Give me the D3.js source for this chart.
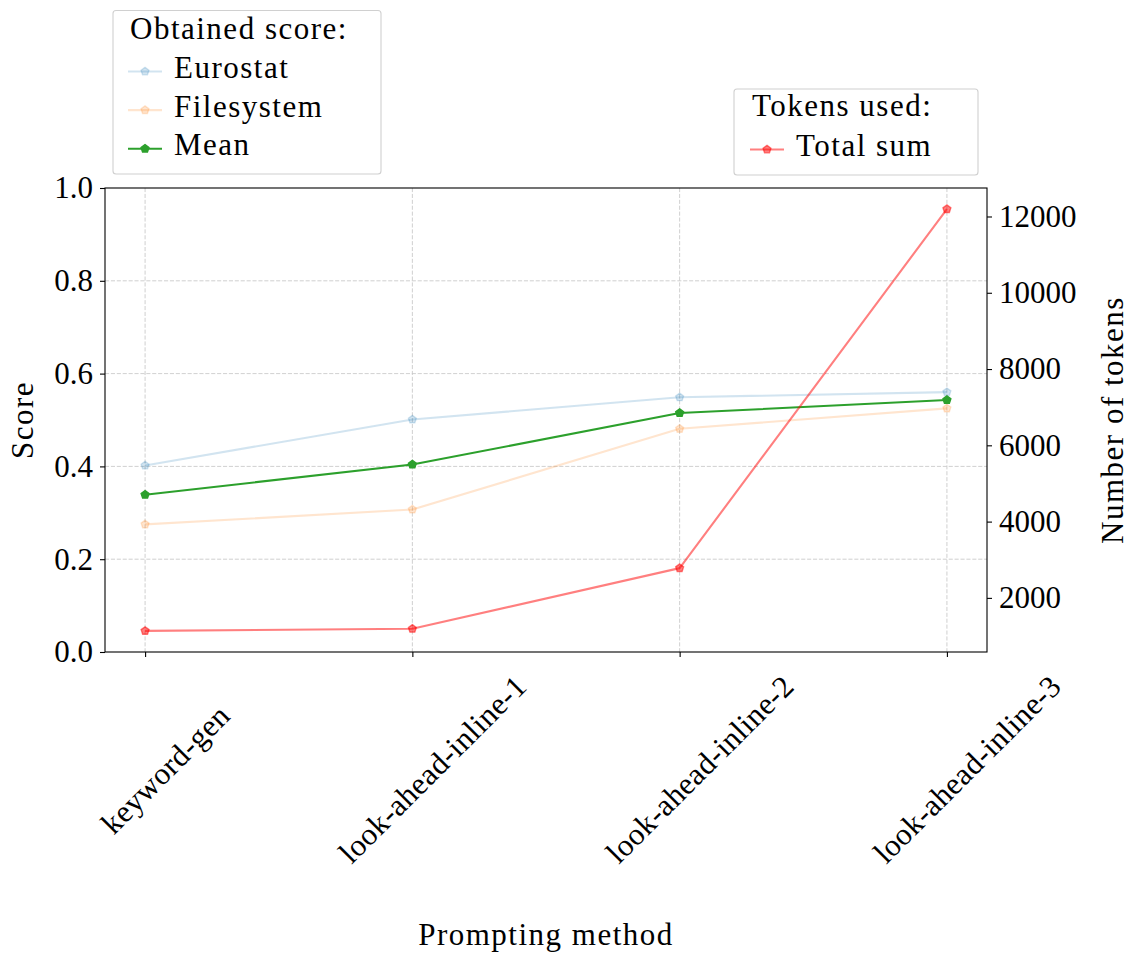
<!DOCTYPE html>
<html>
<head>
<meta charset="utf-8">
<script src="https://cdn.jsdelivr.net/npm/d3@7"></script>
<style>
  body { margin: 0; background: #fff; }
  svg text { font-family: "Liberation Serif", "Times New Roman", Tinos, "DejaVu Serif", serif; fill: #000; }
  .word { letter-spacing: 1.5px; }
  .xlab { letter-spacing: 0.3px; }
</style>
</head>
<body>
<svg id="board" width="1138" height="957"></svg>
<script>
// prompting methods on the x axis
let methods = ['keyword-gen', 'look-ahead-inline-1', 'look-ahead-inline-2', 'look-ahead-inline-3']

// obtained scores
let eurostat = [0.402, 0.501, 0.549, 0.560]
let filesystem = [0.275, 0.307, 0.481, 0.525]
let meanScore = [0.339, 0.404, 0.515, 0.543]

// tokens used (total sum)
let tokens = [1134, 1190, 2780, 12194]

let scoreTicks = [0, 0.2, 0.4, 0.6, 0.8, 1.0]
let tokenTicks = [2000, 4000, 6000, 8000, 10000, 12000]

let board = d3.select('#board')
let serif = '"Liberation Serif", "Times New Roman", Tinos, "DejaVu Serif", serif'

// axes box
let axLeft = 105, axRight = 987, axTop = 188, axBottom = 652
let fontSize = 31

let x = d3.scalePoint().domain(methods).range([axLeft, axRight]).padding(0.15)
let yScore = d3.scaleLinear().domain([0, 1]).range([axBottom, axTop])

// matplotlib style autoscale (5% margins) for the twin axis
let tMin = d3.min(tokens), tMax = d3.max(tokens)
let tPad = (tMax - tMin) * 0.05
let yTokens = d3.scaleLinear().domain([tMin - tPad, tMax + tPad]).range([axBottom, axTop])

// grid
let grid = board.append('g')
grid.selectAll('.gx')
    .data(methods)
    .enter()
    .append('line')
    .attr('x1', d => x(d)).attr('x2', d => x(d))
    .attr('y1', axTop).attr('y2', axBottom)
grid.selectAll('.gy')
    .data(scoreTicks.slice(1, -1))
    .enter()
    .append('line')
    .attr('x1', axLeft).attr('x2', axRight)
    .attr('y1', d => yScore(d)).attr('y2', d => yScore(d))
grid.selectAll('line')
    .attr('stroke', '#c4c4c4')
    .attr('stroke-width', 0.8)
    .attr('stroke-dasharray', '4.1,1.8')

// pentagon marker like matplotlib 'p'
let pentagon = {
    draw: function(ctx, size) {
        let r = Math.sqrt(size)
        for (let k = 0; k < 5; k++) {
            let a = -Math.PI / 2 + k * 2 * Math.PI / 5
            if (k === 0) ctx.moveTo(r * Math.cos(a), r * Math.sin(a))
            else ctx.lineTo(r * Math.cos(a), r * Math.sin(a))
        }
        ctx.closePath()
    }
}
let marker = d3.symbol().type(pentagon).size(4.17 * 4.17)

let drawSeries = function(values, yScale, color, alpha) {
    let g = board.append('g')
    let line = d3.line()
        .x((d, i) => x(methods[i]))
        .y(d => yScale(d))
    g.append('path')
        .attr('d', line(values))
        .attr('fill', 'none')
        .attr('stroke', color)
        .attr('stroke-opacity', alpha)
        .attr('stroke-width', 2.1)
        .attr('stroke-linejoin', 'round')
    g.selectAll('.pt')
        .data(values)
        .enter()
        .append('path')
        .attr('d', marker)
        .attr('transform', (d, i) => 'translate(' + x(methods[i]) + ',' + yScale(d) + ')')
        .attr('fill', color)
        .attr('fill-opacity', alpha)
        .attr('stroke', color)
        .attr('stroke-opacity', alpha)
        .attr('stroke-width', 1.39)
}

drawSeries(eurostat, yScore, '#1f77b4', 0.2)
drawSeries(filesystem, yScore, '#ff7f0e', 0.2)
drawSeries(meanScore, yScore, '#2ca02c', 1)
drawSeries(tokens, yTokens, '#ff0000', 0.5)

// spines
board.append('rect')
    .attr('x', axLeft).attr('y', axTop)
    .attr('width', axRight - axLeft).attr('height', axBottom - axTop)
    .attr('fill', 'none')
    .attr('stroke', '#000')
    .attr('stroke-width', 1.1)

// left axis
let leftAxis = d3.axisLeft(yScore).tickValues(scoreTicks).tickFormat(d3.format('.1f')).tickSize(5).tickPadding(7)
board.append('g').attr('transform', 'translate(' + axLeft + ',0)').call(leftAxis)

// right axis
let rightAxis = d3.axisRight(yTokens).tickValues(tokenTicks).tickFormat(d3.format('d')).tickSize(5).tickPadding(7)
board.append('g').attr('transform', 'translate(' + axRight + ',0)').call(rightAxis)

// bottom axis (ticks only, labels drawn rotated below)
let bottomAxis = d3.axisBottom(x).tickSize(5).tickFormat('')
board.append('g').attr('transform', 'translate(0,' + axBottom + ')').call(bottomAxis)

board.selectAll('.domain').remove()
board.selectAll('g').attr('font-family', serif)
board.selectAll('.tick line').attr('stroke', '#000').attr('stroke-width', 1.1)
board.selectAll('.tick text')
    .style('font-family', serif)
    .style('font-size', fontSize + 'px')
    .attr('fill', '#000')

board.selectAll('.xlab')
    .data(methods)
    .enter()
    .append('text')
    .attr('class', 'xlab')
    .attr('transform', d => 'translate(' + (x(d) + 20) + ',769) rotate(-45)')
    .attr('text-anchor', 'middle')
    .attr('dy', '0.35em')
    .style('font-size', fontSize + 'px')
    .text(d => d)

// axis titles
board.append('text')
    .attr('class', 'word')
    .attr('x', (axLeft + axRight) / 2).attr('y', 945)
    .attr('text-anchor', 'middle')
    .style('font-size', fontSize + 'px')
    .text('Prompting method')

board.append('text')
    .attr('class', 'word')
    .attr('transform', 'translate(33,' + (axTop + axBottom) / 2 + ') rotate(-90)')
    .attr('text-anchor', 'middle')
    .style('font-size', fontSize + 'px')
    .text('Score')

board.append('text')
    .attr('class', 'word')
    .attr('transform', 'translate(1123,' + (axTop + axBottom) / 2 + ') rotate(-90)')
    .attr('text-anchor', 'middle')
    .style('font-size', fontSize + 'px')
    .text('Number of tokens')

// legends
let makeLegend = function(box, title, entries) {
    let g = board.append('g')
    g.append('rect')
        .attr('x', box.x).attr('y', box.y)
        .attr('width', box.w).attr('height', box.h)
        .attr('rx', 3)
        .attr('fill', '#fff').attr('fill-opacity', 0.8)
        .attr('stroke', '#d0d0d0').attr('stroke-width', 1.1)
    g.append('text')
        .attr('class', 'word')
        .attr('x', box.titleX).attr('y', box.titleY)
        .style('font-size', fontSize + 'px')
        .text(title)
    entries.forEach((e, i) => {
        let yy = box.firstY + i * 38.6
        g.append('line')
            .attr('x1', box.lineX).attr('x2', box.lineX + 34)
            .attr('y1', yy - 6.5).attr('y2', yy - 6.5)
            .attr('stroke', e.color).attr('stroke-opacity', e.alpha)
            .attr('stroke-width', 2.1)
        g.append('path')
            .attr('d', marker)
            .attr('transform', 'translate(' + (box.lineX + 17) + ',' + (yy - 6.5) + ')')
            .attr('fill', e.color).attr('fill-opacity', e.alpha)
            .attr('stroke', e.color).attr('stroke-opacity', e.alpha)
            .attr('stroke-width', 1.39)
        g.append('text')
            .attr('class', 'word')
            .attr('x', box.lineX + 46).attr('y', yy)
            .style('font-size', fontSize + 'px')
            .text(e.name)
    })
}

makeLegend({x: 113, y: 10.5, w: 268, h: 163.5, titleX: 130, titleY: 39, lineX: 128, firstY: 78},
    'Obtained score:',
    [{name: 'Eurostat', color: '#1f77b4', alpha: 0.2},
     {name: 'Filesystem', color: '#ff7f0e', alpha: 0.2},
     {name: 'Mean', color: '#2ca02c', alpha: 1}])

makeLegend({x: 734, y: 89, w: 244, h: 86, titleX: 752, titleY: 116, lineX: 750, firstY: 156},
    'Tokens used:',
    [{name: 'Total sum', color: '#ff0000', alpha: 0.5}])
</script>
</body>
</html>
